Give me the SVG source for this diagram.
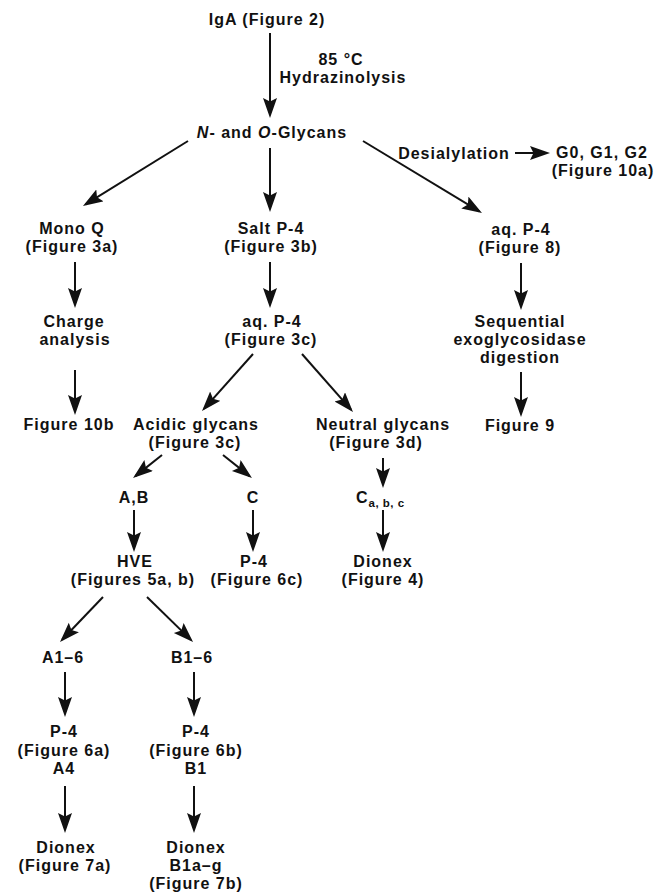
<svg xmlns="http://www.w3.org/2000/svg" width="659" height="894" viewBox="0 0 659 894">
<style>
text{font-family:"Liberation Sans",Arial,Helvetica,sans-serif;font-size:16px;font-weight:bold;fill:#111;text-anchor:middle;letter-spacing:1px}
.sub{font-size:11.5px;letter-spacing:0.5px}
.c line{stroke:#111;stroke-width:2;fill:none;marker-end:url(#ah)}
</style>
<defs>
<marker id="ah" markerUnits="userSpaceOnUse" markerWidth="22" markerHeight="16" refX="17" refY="7" orient="auto">
<path d="M0,0 L20,7 L0,14 L3.5,7 Z" fill="#111"/>
</marker>
</defs>
<g id="igA"><text x="267" y="25">IgA (Figure 2)</text></g>
<g id="hydrazinolysis"><text x="341" y="65">85 °C</text><text x="343" y="83">Hydrazinolysis</text></g>
<g id="glycans"><text x="272" y="138"><tspan font-style="italic">N</tspan>- and <tspan font-style="italic">O</tspan>-Glycans</text></g>
<g id="desialylation"><text x="454" y="159">Desialylation</text></g>
<g id="g012"><text x="602" y="158">G0, G1, G2</text><text x="603" y="176">(Figure 10a)</text></g>
<g id="monoQ"><text x="72" y="234">Mono Q</text><text x="72" y="252">(Figure 3a)</text></g>
<g id="saltP4"><text x="271" y="234">Salt P-4</text><text x="271" y="252">(Figure 3b)</text></g>
<g id="aqP4fig8"><text x="521" y="235">aq. P-4</text><text x="520" y="253">(Figure 8)</text></g>
<g id="charge"><text x="74" y="327">Charge</text><text x="75" y="345">analysis</text></g>
<g id="aqP4fig3c"><text x="272" y="327">aq. P-4</text><text x="271" y="345">(Figure 3c)</text></g>
<g id="sequential"><text x="520" y="327">Sequential</text><text x="520" y="345">exoglycosidase</text><text x="520" y="363">digestion</text></g>
<g id="fig10b"><text x="69" y="430">Figure 10b</text></g>
<g id="acidic"><text x="196" y="430">Acidic glycans</text><text x="195" y="448">(Figure 3c)</text></g>
<g id="neutral"><text x="383" y="430">Neutral glycans</text><text x="376" y="448">(Figure 3d)</text></g>
<g id="fig9"><text x="520" y="431">Figure 9</text></g>
<g id="AB"><text x="134" y="503">A,B</text></g>
<g id="C"><text x="253" y="503">C</text></g>
<g id="Cabc"><text x="356" y="503" style="text-anchor:start">C<tspan class="sub" dy="4">a, b, c</tspan></text></g>
<g id="HVE"><text x="135" y="567">HVE</text><text x="133" y="585">(Figures 5a, b)</text></g>
<g id="P4fig6c"><text x="254" y="567">P-4</text><text x="257" y="585">(Figure 6c)</text></g>
<g id="dionexFig4"><text x="383" y="567">Dionex</text><text x="383" y="585">(Figure 4)</text></g>
<g id="A1-6"><text x="63" y="663">A1–6</text></g>
<g id="B1-6"><text x="192" y="663">B1–6</text></g>
<g id="P4fig6a"><text x="64" y="737">P-4</text><text x="64" y="756">(Figure 6a)</text><text x="64" y="774">A4</text></g>
<g id="P4fig6b"><text x="196" y="737">P-4</text><text x="196" y="756">(Figure 6b)</text><text x="196" y="774">B1</text></g>
<g id="dionexFig7a"><text x="66" y="853">Dionex</text><text x="65" y="871">(Figure 7a)</text></g>
<g id="dionexFig7b"><text x="196" y="853">Dionex</text><text x="196" y="871">B1a–g</text><text x="196" y="889">(Figure 7b)</text></g>
<g id="connectors" class="c">
<line x1="270" y1="33" x2="270" y2="115"/>
<line x1="188" y1="141" x2="85.5" y2="204.4"/>
<line x1="270" y1="148" x2="270" y2="209"/>
<line x1="363" y1="141" x2="479.4" y2="211.4"/>
<line x1="515" y1="153" x2="547" y2="153"/>
<line x1="75" y1="262" x2="75" y2="305"/>
<line x1="75" y1="370" x2="75" y2="412"/>
<line x1="270" y1="262" x2="270" y2="305"/>
<line x1="253" y1="354" x2="204" y2="408.8"/>
<line x1="302" y1="354" x2="351" y2="409.7"/>
<line x1="521" y1="263" x2="521" y2="307"/>
<line x1="521" y1="372" x2="521" y2="414"/>
<line x1="162" y1="455" x2="135.4" y2="476.1"/>
<line x1="223" y1="455" x2="249.6" y2="476.1"/>
<line x1="383" y1="458" x2="383" y2="485"/>
<line x1="134" y1="510" x2="134" y2="549"/>
<line x1="253" y1="510" x2="253" y2="549"/>
<line x1="383" y1="510" x2="383" y2="549"/>
<line x1="103" y1="597" x2="62.1" y2="639.8"/>
<line x1="147" y1="597" x2="190.9" y2="639.9"/>
<line x1="65" y1="672" x2="65" y2="714"/>
<line x1="194" y1="672" x2="194" y2="714"/>
<line x1="65" y1="786" x2="65" y2="830"/>
<line x1="194" y1="786" x2="194" y2="830"/>
</g>
</svg>
